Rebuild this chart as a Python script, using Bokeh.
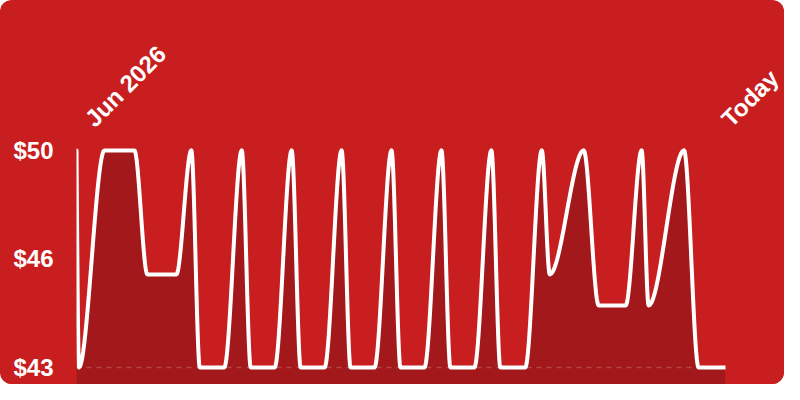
import math
import numpy as np
from bokeh.plotting import figure
from bokeh.models import Range1d, FixedTicker, Span, ColumnDataSource
from bokeh.embed import file_html
from bokeh.resources import INLINE

# ---- data (day offset from start, price in $) ----
days = [0, 0.5, 5.6, 11.6, 14.2, 20.0, 23.0, 24.7, 29.6, 33.1, 34.9, 39.7,
        43.1, 44.9, 49.7, 53.1, 54.9, 59.7, 63.1, 64.9, 69.7, 73.1, 74.9,
        79.7, 83.1, 84.9, 89.9, 93.2, 94.8, 101.6, 104.6, 110.0, 113.2,
        114.6, 121.7, 124.6, 130]
prices = [50, 43, 50, 50, 46, 46, 50, 43, 43, 50, 43, 43,
          50, 43, 43, 50, 43, 43, 50, 43, 43, 50, 43,
          43, 50, 43, 43, 50, 46, 50, 45, 45, 50,
          45, 50, 43, 43]
x_ticks = [2.5, 130]
x_tick_labels = ["Jun 2026", "Today"]
y_ticks = [43, 46.5, 50]
y_tick_labels = ["$43", "$46", "$50"]

BG = "#c81e1f"
FILL = "#a3181a"


def monotone_curve(xs, ys, n=24):
    """Monotone cubic (d3 curveMonotoneX style) rendering of the series."""
    xs = np.asarray(xs, float)
    ys = np.asarray(ys, float)
    h = np.diff(xs)
    s = np.diff(ys) / h
    t = np.zeros_like(xs)
    for i in range(1, len(xs) - 1):
        s0, s1, h0, h1 = s[i - 1], s[i], h[i - 1], h[i]
        p = (s0 * h1 + s1 * h0) / (h0 + h1)
        t[i] = (np.sign(s0) + np.sign(s1)) * min(abs(s0), abs(s1), 0.5 * abs(p))
    t[0] = (3 * s[0] - t[1]) / 2
    t[-1] = (3 * s[-1] - t[-2]) / 2
    out_x, out_y = [], []
    for i in range(len(xs) - 1):
        u = np.linspace(0, 1, n, endpoint=(i == len(xs) - 2))
        h00 = 2 * u**3 - 3 * u**2 + 1
        h10 = u**3 - 2 * u**2 + u
        h01 = -2 * u**3 + 3 * u**2
        h11 = u**3 - u**2
        out_x.extend(xs[i] + u * h[i])
        out_y.extend(h00 * ys[i] + h10 * h[i] * t[i] + h01 * ys[i + 1] + h11 * h[i] * t[i + 1])
    return np.array(out_x), np.array(out_y)


cx, cy = monotone_curve(days, prices)

y_end = max(prices) + 0.48
y_start = y_end - 8.03

p = figure(width=784, height=384, output_backend="svg", toolbar_location=None,
           x_axis_location="above",
           x_range=Range1d(min(days), max(days)), y_range=Range1d(y_start, y_end),
           min_border_left=76, min_border_right=59, min_border_top=135,
           min_border_bottom=0)
p.styles = {"border-radius": "12px", "overflow": "hidden", "background-color": BG}
p.background_fill_color = BG
p.border_fill_color = BG
p.outline_line_color = None
p.xgrid.visible = False
p.ygrid.visible = False

src = ColumnDataSource(dict(x=cx, y=cy, base=np.full(len(cx), y_start)))
p.varea(x="x", y1="base", y2="y", source=src, fill_color=FILL)
p.add_layout(Span(location=min(prices), dimension="width", line_color="white",
                  line_alpha=0.2, line_width=1.5, line_dash="5 5"))
p.line(x="x", y="y", source=src, line_color="white", line_width=4,
       line_join="round", line_cap="round")

for ax in (p.xaxis[0], p.yaxis[0]):
    ax.axis_line_color = None
    ax.major_tick_line_color = None
    ax.minor_tick_line_color = None
    ax.major_tick_out = 0
    ax.major_tick_in = 0
    ax.major_label_text_color = "white"
    ax.major_label_text_font = "Liberation Sans"
    ax.major_label_text_font_style = "bold"
    ax.major_label_text_font_size = "24px"

p.xaxis[0].ticker = FixedTicker(ticks=x_ticks)
p.xaxis[0].major_label_overrides = dict(zip(x_ticks, x_tick_labels))
p.xaxis[0].major_label_orientation = math.pi / 4
p.xaxis[0].major_label_standoff = 13

p.yaxis[0].ticker = FixedTicker(ticks=y_ticks)
p.yaxis[0].major_label_overrides = dict(zip(y_ticks, y_tick_labels))
p.yaxis[0].major_label_standoff = 23

open("out.html", "w").write(file_html(p, INLINE))
